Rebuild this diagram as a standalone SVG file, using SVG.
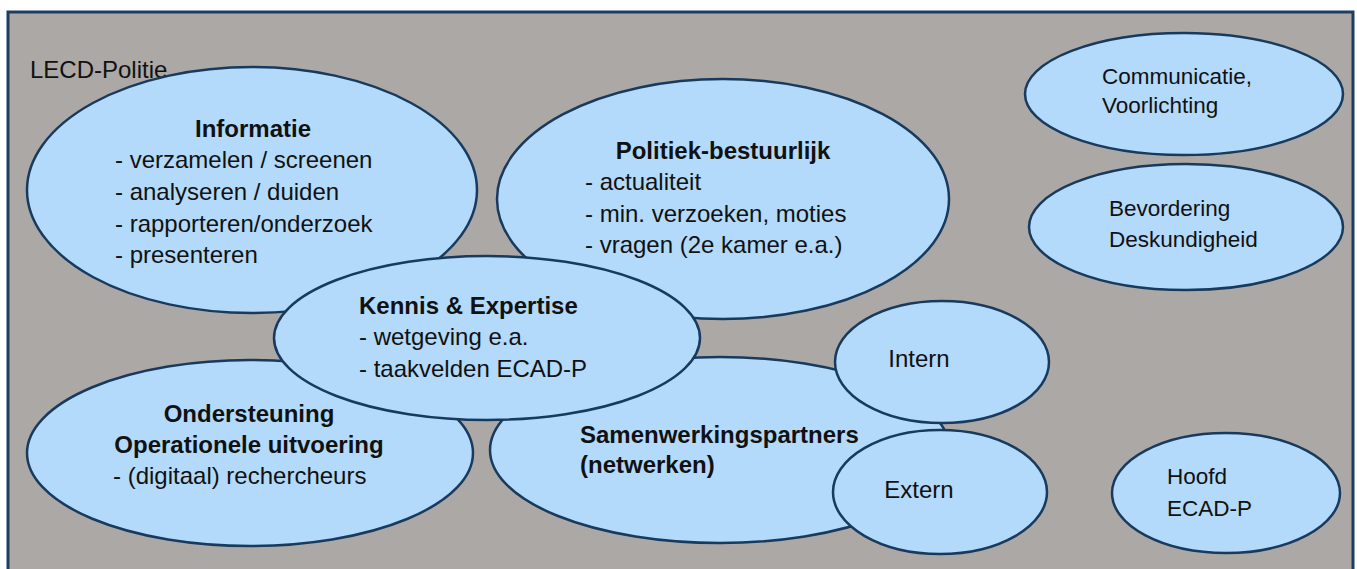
<svg xmlns="http://www.w3.org/2000/svg" width="1357" height="569" viewBox="0 0 1357 569">
<style>
.bg{fill:#ffffff}
.frame{fill:#ACA8A5;stroke:#1E3D60;stroke-width:3}
.node{fill:#B3DAFA;stroke:#173A5E;stroke-width:2.5}
text{font-family:"Liberation Sans",Arial,sans-serif;font-size:24px;fill:#111}
.s{font-size:22.5px}
.b{font-weight:bold}
.m{text-anchor:middle}
</style>
<rect class="bg" x="0" y="0" width="1357" height="569"/>
<rect id="frame" class="frame" x="8" y="12" width="1345" height="570"/>
<text x="30" y="78">LECD-Politie</text>
<g id="informatie">
<ellipse class="node" cx="252" cy="190" rx="225" ry="123"/>
<text class="b m" x="253" y="137">Informatie</text>
<text x="115" y="168">- verzamelen / screenen</text>
<text x="115" y="200">- analyseren / duiden</text>
<text x="115" y="232">- rapporteren/onderzoek</text>
<text x="115" y="263">- presenteren</text>
</g>
<g id="politiek">
<ellipse class="node" cx="723" cy="199" rx="226" ry="120"/>
<text class="b m" x="723" y="159">Politiek-bestuurlijk</text>
<text x="585" y="190">- actualiteit</text>
<text x="585" y="222">- min. verzoeken, moties</text>
<text x="585" y="253">- vragen (2e kamer e.a.)</text>
</g>
<g id="ondersteuning">
<ellipse class="node" cx="250" cy="453" rx="223" ry="93"/>
<text class="b m" x="249" y="422">Ondersteuning</text>
<text class="b m" x="249" y="453">Operationele uitvoering</text>
<text x="113" y="484">- (digitaal) rechercheurs</text>
</g>
<g id="samenwerking">
<ellipse class="node" cx="720" cy="450" rx="230" ry="93"/>
<text class="b" x="580" y="443">Samenwerkingspartners</text>
<text class="b" x="580" y="473">(netwerken)</text>
</g>
<g id="kennis">
<ellipse class="node" cx="487" cy="338" rx="213" ry="82"/>
<text class="b" x="359" y="314">Kennis &amp; Expertise</text>
<text x="359" y="345">- wetgeving e.a.</text>
<text x="359" y="377">- taakvelden ECAD-P</text>
</g>
<g id="intern">
<ellipse class="node" cx="942" cy="362" rx="107" ry="61"/>
<text class="m" x="919" y="367">Intern</text>
</g>
<g id="extern">
<ellipse class="node" cx="940" cy="492" rx="107" ry="62"/>
<text class="m" x="919" y="498">Extern</text>
</g>
<g id="communicatie">
<ellipse class="node" cx="1184" cy="94" rx="159" ry="61"/>
<text class="s" x="1102" y="84">Communicatie,</text>
<text class="s" x="1102" y="113">Voorlichting</text>
</g>
<g id="bevordering">
<ellipse class="node" cx="1186" cy="227" rx="157" ry="63"/>
<text class="s" x="1109" y="216">Bevordering</text>
<text class="s" x="1109" y="247">Deskundigheid</text>
</g>
<g id="hoofd">
<ellipse class="node" cx="1226" cy="493" rx="114" ry="60"/>
<text class="s" x="1167" y="484">Hoofd</text>
<text class="s" x="1167" y="516">ECAD-P</text>
</g>
<g id="connectors"></g>
</svg>
